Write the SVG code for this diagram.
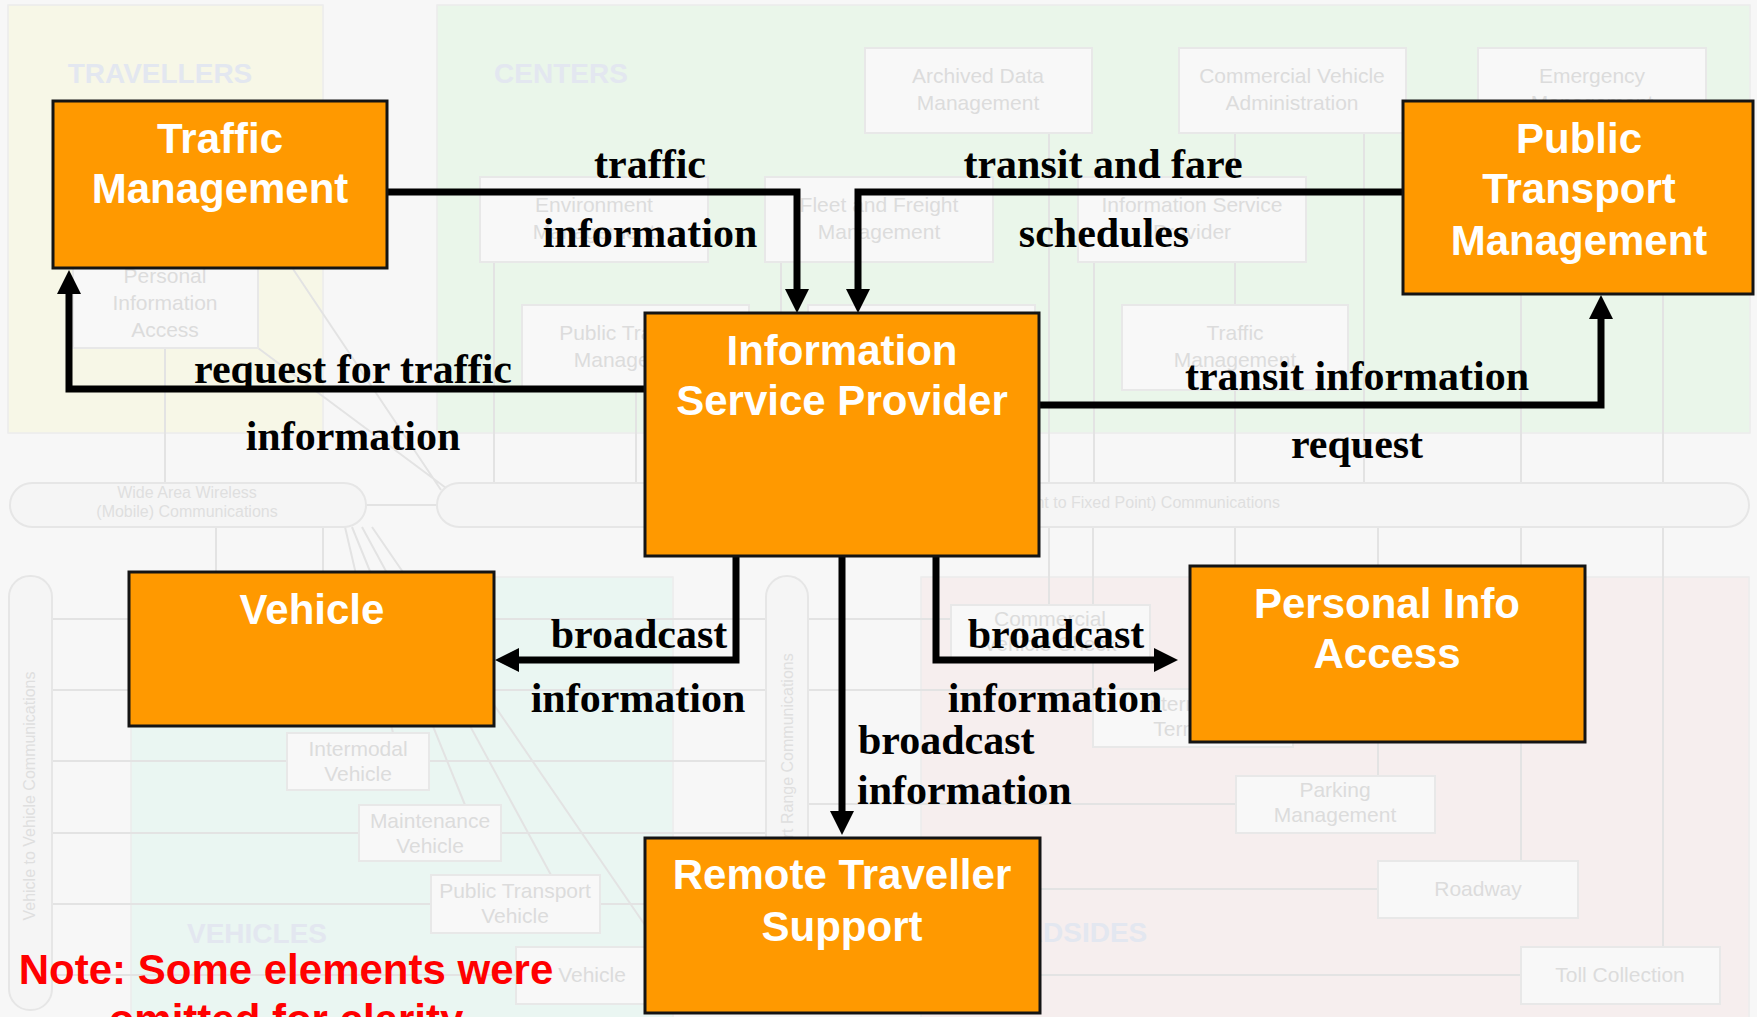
<svg xmlns="http://www.w3.org/2000/svg" width="1757" height="1017" viewBox="0 0 1757 1017">
<defs>
<style>
.panel{stroke:#ececec;stroke-width:1.5}
.ptitle{font-family:"Liberation Sans",Arial,sans-serif;font-weight:bold;font-size:28px;fill:#e3e7f0;text-anchor:middle}
.bgl{stroke:#e3e3e3;stroke-width:2;fill:none}
.pill{fill:#f5f5f5;stroke:#e6e6e6;stroke-width:2}
.bgb{fill:#f8f8f8;stroke:#e8e8e8;stroke-width:2}
.bgt{font-family:"Liberation Sans",Arial,sans-serif;font-size:21px;fill:#dcdcdc;text-anchor:middle}
.bgs{font-family:"Liberation Sans",Arial,sans-serif;font-size:16px;fill:#dfdfdf;text-anchor:middle}
.conn{stroke:#000;stroke-width:7;fill:none;stroke-linejoin:miter;marker-end:url(#ah)}
.node rect{fill:#ff9900;stroke:#141414;stroke-width:3}
.node text{font-family:"Liberation Sans",Arial,sans-serif;font-weight:bold;font-size:42px;fill:#ffffff;text-anchor:middle}
.lbl{font-family:"Liberation Serif","Times New Roman",serif;font-weight:bold;font-size:42px;fill:#000;text-anchor:middle}
.note{font-family:"Liberation Sans",Arial,sans-serif;font-weight:bold;font-size:42px;fill:#ff0000;text-anchor:middle}
</style>
<marker id="ah" markerUnits="userSpaceOnUse" markerWidth="24" markerHeight="24" viewBox="0 0 24 24" refX="1" refY="12" orient="auto">
<path d="M0,0 L24,12 L0,24 z" fill="#000"/>
</marker>
</defs>

<rect x="0" y="0" width="1757" height="1017" fill="#f7f7f7"/>

<g id="background">
<rect class="panel" x="8" y="5" width="315" height="428" fill="#f7f7e7"/>
<rect class="panel" x="437" y="5" width="1313" height="428" fill="#eaf6ea"/>
<rect class="panel" x="131" y="577" width="542" height="445" fill="#eaf6f2"/>
<rect class="panel" x="921" y="577" width="828" height="445" fill="#f6eeee"/>
<text class="ptitle" x="160" y="83">TRAVELLERS</text>
<text class="ptitle" x="561" y="83">CENTERS</text>
<text class="ptitle" x="257" y="943">VEHICLES</text>
<text class="ptitle" x="1064" y="942">ROADSIDES</text>

<path class="bgl" d="M165,348V483 M293,269L441,490 M258,348L446,488 M494,262V483 M636,390V483 M781,262V483 M921,390V483 M1049,133V605 M1094,262V483 M1235,133V483 M1364,133V483 M1521,262V483 M1663,133V483 M366,505H437"/>
<path class="bgl" d="M216,527V590 M323,527V572 M345,527L393,733 M352,527L465,805 M362,527L551,875 M372,527L660,947"/>
<path class="bgl" d="M52,619H766 M52,690H766 M52,761H766 M52,833H766 M52,904H766 M52,975H766"/>
<path class="bgl" d="M1093,527V689 M1235,527V689 M1378,527V776 M1521,527V861 M1663,527V947 M808,619H951 M808,690H1093 M808,804H1236 M808,889H1378 M808,975H1521"/>

<rect class="pill" x="10" y="483" width="356" height="44" rx="22"/>
<text class="bgs" x="187" y="498">Wide Area Wireless</text>
<text class="bgs" x="187" y="517">(Mobile) Communications</text>
<rect class="pill" x="437" y="483" width="1312" height="44" rx="22"/>
<text class="bgs" x="1280" y="508" style="text-anchor:end">(Fixed Point to Fixed Point) Communications</text>
<rect class="pill" x="9" y="576" width="43" height="434" rx="21"/>
<text class="bgs" transform="translate(35,796) rotate(-90)">Vehicle to Vehicle Communications</text>
<rect class="pill" x="766" y="576" width="42" height="434" rx="21"/>
<text class="bgs" transform="translate(793,760) rotate(-90)">Short Range Communications</text>

<rect class="bgb" x="73" y="230" width="185" height="118"/>
<text class="bgt" x="165" y="283">Personal</text>
<text class="bgt" x="165" y="310">Information</text>
<text class="bgt" x="165" y="337">Access</text>

<rect class="bgb" x="865" y="48" width="227" height="85"/>
<text class="bgt" x="978" y="83">Archived Data</text>
<text class="bgt" x="978" y="110">Management</text>
<rect class="bgb" x="1179" y="48" width="227" height="85"/>
<text class="bgt" x="1292" y="83">Commercial Vehicle</text>
<text class="bgt" x="1292" y="110">Administration</text>
<rect class="bgb" x="1478" y="48" width="228" height="85"/>
<text class="bgt" x="1592" y="83">Emergency</text>
<text class="bgt" x="1592" y="110">Management</text>

<rect class="bgb" x="480" y="177" width="228" height="85"/>
<text class="bgt" x="594" y="212">Environment</text>
<text class="bgt" x="594" y="239">Management</text>
<rect class="bgb" x="765" y="177" width="228" height="85"/>
<text class="bgt" x="879" y="212">Fleet and Freight</text>
<text class="bgt" x="879" y="239">Management</text>
<rect class="bgb" x="1078" y="177" width="228" height="85"/>
<text class="bgt" x="1192" y="212">Information Service</text>
<text class="bgt" x="1192" y="239">Provider</text>

<rect class="bgb" x="522" y="305" width="227" height="85"/>
<text class="bgt" x="635" y="340">Public Transport</text>
<text class="bgt" x="635" y="367">Management</text>
<rect class="bgb" x="808" y="305" width="227" height="85"/>
<rect class="bgb" x="1122" y="305" width="226" height="85"/>
<text class="bgt" x="1235" y="340">Traffic</text>
<text class="bgt" x="1235" y="367">Management</text>

<rect class="bgb" x="287" y="733" width="142" height="57"/>
<text class="bgt" x="358" y="756">Intermodal</text>
<text class="bgt" x="358" y="781">Vehicle</text>
<rect class="bgb" x="359" y="805" width="142" height="56"/>
<text class="bgt" x="430" y="828">Maintenance</text>
<text class="bgt" x="430" y="853">Vehicle</text>
<rect class="bgb" x="431" y="875" width="169" height="58"/>
<text class="bgt" x="515" y="898">Public Transport</text>
<text class="bgt" x="515" y="923">Vehicle</text>
<rect class="bgb" x="516" y="947" width="152" height="57"/>
<text class="bgt" x="592" y="982">Vehicle</text>

<rect class="bgb" x="951" y="605" width="199" height="57"/>
<text class="bgt" x="1050" y="626">Commercial</text>
<text class="bgt" x="1050" y="651">Vehicle Check</text>
<rect class="bgb" x="1093" y="689" width="200" height="58"/>
<text class="bgt" x="1193" y="711">Intermodal</text>
<text class="bgt" x="1193" y="736">Terminal</text>
<rect class="bgb" x="1236" y="776" width="199" height="57"/>
<text class="bgt" x="1335" y="797">Parking</text>
<text class="bgt" x="1335" y="822">Management</text>
<rect class="bgb" x="1378" y="861" width="200" height="57"/>
<text class="bgt" x="1478" y="896">Roadway</text>
<rect class="bgb" x="1521" y="947" width="199" height="57"/>
<text class="bgt" x="1620" y="982">Toll Collection</text>
</g>

<g id="connectors">
<path class="conn" d="M387,192 H797 V290"/>
<path class="conn" d="M1403,192 H858 V290"/>
<path class="conn" d="M645,389 H69 V293"/>
<path class="conn" d="M1039,405 H1601 V318"/>
<path class="conn" d="M736,556 V660 H518"/>
<path class="conn" d="M842,556 V812"/>
<path class="conn" d="M936,556 V660 H1155"/>
</g>

<g id="n-tm" class="node">
<rect x="53" y="101" width="334" height="167"/>
<text x="220" y="153">Traffic</text>
<text x="220" y="203">Management</text>
</g>
<g id="n-ptm" class="node">
<rect x="1403" y="101" width="350" height="193"/>
<text x="1579" y="153">Public</text>
<text x="1579" y="203">Transport</text>
<text x="1579" y="255">Management</text>
</g>
<g id="n-isp" class="node">
<rect x="645" y="313" width="394" height="243"/>
<text x="842" y="365">Information</text>
<text x="842" y="415">Service Provider</text>
</g>
<g id="n-veh" class="node">
<rect x="129" y="572" width="365" height="154"/>
<text x="312" y="624">Vehicle</text>
</g>
<g id="n-pia" class="node">
<rect x="1190" y="566" width="395" height="176"/>
<text x="1387" y="618">Personal Info</text>
<text x="1387" y="668">Access</text>
</g>
<g id="n-rts" class="node">
<rect x="645" y="838" width="395" height="175"/>
<text x="842" y="889">Remote Traveller</text>
<text x="842" y="941">Support</text>
</g>

<g id="labels">
<text class="lbl" x="650" y="178">traffic</text>
<text class="lbl" x="650" y="247">information</text>
<text class="lbl" x="1103" y="178">transit and fare</text>
<text class="lbl" x="1104" y="247">schedules</text>
<text class="lbl" x="353" y="383">request for traffic</text>
<text class="lbl" x="353" y="450">information</text>
<text class="lbl" x="1357" y="390">transit information</text>
<text class="lbl" x="1357" y="458">request</text>
<text class="lbl" x="639" y="648">broadcast</text>
<text class="lbl" x="638" y="712">information</text>
<text class="lbl" x="858" y="754" style="text-anchor:start">broadcast</text>
<text class="lbl" x="857" y="804" style="text-anchor:start">information</text>
<text class="lbl" x="1056" y="648">broadcast</text>
<text class="lbl" x="1055" y="712">information</text>
</g>

<g id="note">
<text class="note" x="286" y="984">Note: Some elements were</text>
<text class="note" x="286" y="1034">omitted for clarity</text>
</g>
</svg>
